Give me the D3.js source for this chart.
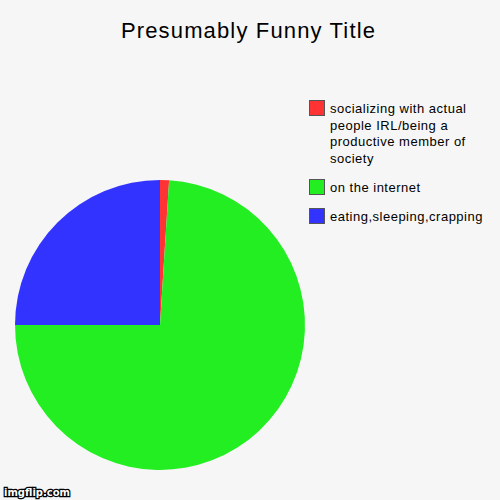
<!DOCTYPE html>
<html><head><meta charset="utf-8">
<script src="https://cdn.jsdelivr.net/npm/d3@7"></script>
<style>body{margin:0;background:#f6f6f6;}svg{display:block;}</style>
</head><body>
<script>
const title = "Presumably Funny Title";
const categories = ["socializing with actual people IRL/being a productive member of society", "on the internet", "eating,sleeping,crapping"];
const legendLines = [["socializing with actual","people IRL/being a","productive member of","society"],["on the internet"],["eating,sleeping,crapping"]];
const values = [1, 74, 25];
const colors = ["#ff3333", "#22ee22", "#3333ff"];

const svg = d3.select("body").append("svg").attr("width",500).attr("height",500);
svg.append("rect").attr("width",500).attr("height",500).attr("fill","#f6f6f6");
svg.append("text").attr("x",248.5).attr("y",38).attr("text-anchor","middle")
  .attr("font-family","Liberation Sans, Arial, sans-serif").attr("font-size",22).attr("letter-spacing",1.15)
  .attr("fill","#000").text(title);

const pie = d3.pie().sort(null).value(d=>d);
const arc = d3.arc().innerRadius(0).outerRadius(145);
const g = svg.append("g").attr("transform","translate(160,325)");
g.selectAll("path").data(pie(values)).join("path").attr("d",arc).attr("fill",(d,i)=>colors[i]);

const legendY = [100,179,208];
const lg = svg.append("g");
categories.forEach((c,i)=>{
  lg.append("rect").attr("x",309.5).attr("y",legendY[i]+0.5).attr("width",15).attr("height",15)
    .attr("fill",colors[i]).attr("stroke","#555").attr("stroke-width",1);
  const t = lg.append("text").attr("font-family","Liberation Sans, Arial, sans-serif").attr("font-size",13)
    .attr("letter-spacing",0.5).attr("fill","#000");
  legendLines[i].forEach((l,j)=>{
    t.append("tspan").attr("x",330).attr("y",legendY[i]+13+j*16.7).text(l);
  });
});

svg.append("text").attr("x",4).attr("y",496).attr("font-family","DejaVu Sans, sans-serif").attr("font-size",10).attr("font-weight","bold")
  .attr("fill","#fff").attr("stroke","#000").attr("stroke-width",2.5).attr("paint-order","stroke").text("imgflip.com");
</script>
</body></html>
